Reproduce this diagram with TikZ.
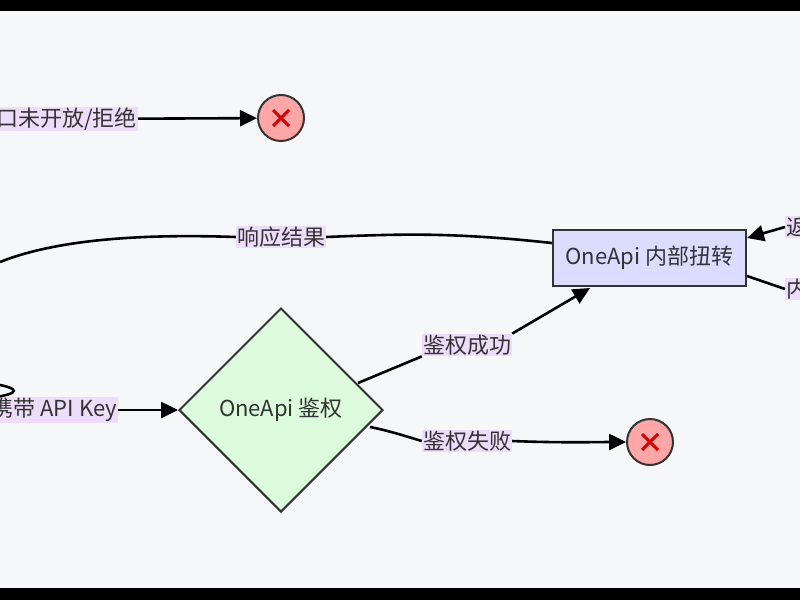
\documentclass[tikz,border=0pt]{standalone}
\usepackage{fontspec}
\setmainfont{Noto Sans CJK SC}
\usetikzlibrary{shapes.geometric,arrows.meta}
\definecolor{bg}{HTML}{F6F7F9}
\definecolor{lbl}{HTML}{EEDDFA}
\definecolor{txt}{HTML}{333333}
\begin{document}
\begin{tikzpicture}[x=1pt,y=-1pt,
  edge/.style={line width=2.6pt,black},
  arr/.style={edge,-{Triangle[length=17pt,width=16pt]}},
  lab/.style={fill=lbl,text=txt,font=\fontsize{22}{25}\selectfont,inner sep=1pt},
  stop/.style={circle,draw=txt,line width=2pt,fill=red!35!white,minimum size=46pt,inner sep=0pt},
  every node/.style={text=txt}]
\useasboundingbox (0,0) rectangle (800,600);
\fill[bg] (0,0) rectangle (800,600);
\begin{scope}
\clip (0,0) rectangle (800,600);
% nodes
\node[rectangle,draw=txt,line width=2pt,fill={rgb,255:red,220;green,220;blue,255},minimum width=193pt,minimum height=56pt,font=\fontsize{22}{25}\selectfont] (rect) at (649.5,258) {OneApi 内部扭转};
\node[diamond,draw=txt,line width=2pt,fill={rgb,255:red,220;green,251;blue,220},minimum width=204pt,minimum height=204pt,inner sep=0pt,aspect=1,font=\fontsize{22}{25}\selectfont] (dia) at (281,410) {OneApi 鉴权};
\node[stop] (s1) at (281,118) {};
\node[stop] (s2) at (650,442) {};
\foreach \s in {s1,s2}{
  \draw[red!85!black,line width=3pt] ([shift={(-8,-8)}]\s.center) -- ([shift={(8,8)}]\s.center);
  \draw[red!85!black,line width=3pt] ([shift={(-8,8)}]\s.center) -- ([shift={(8,-8)}]\s.center);
}
% labels
\node[lab,anchor=east] (l1) at (138,119) {口未开放/拒绝};
\node[lab] (l2) at (281,237) {响应结果};
\node[lab,anchor=east] (l3) at (118,410) {携带 API Key};
\node[lab] (l4) at (467,345) {鉴权成功};
\node[lab] (l5) at (467,441) {鉴权失败};
\node[lab,anchor=west] (l6) at (785,227) {返回};
\node[lab,anchor=west] (l7) at (785,289) {内部};
\coordinate (c1) at (0,262);
\coordinate (c2) at (0,385);
% edges
\draw[arr] (l1) -- (s1);
\draw[edge] (rect.west |- 0,243) .. controls (450,232) and (400,234) .. (l2.east);
\draw[edge] (l2.west) .. controls (150,234) and (60,238) .. (c1);
\draw[edge] (c2) .. controls (15,388) and (25,393) .. (l3.west |- 0,398);
\draw[arr] (l3) -- (dia.west);
\draw[edge] (358,383) -- (l4.south west);
\draw[arr] (l4.north east) -- (590,288);
\draw[edge] (370,427) .. controls (390,431) and (405,436) .. (l5.west);
\draw[arr] (l5.east) .. controls (560,443) and (600,442) .. (s2.west);
\draw[arr] (l6.west) -- (rect.east |- 0,238);
\draw[edge] (rect.east |- 0,276) -- (l7.west);
\end{scope}
\fill[black] (0,0) rectangle (800,11);
\fill[black] (0,588) rectangle (800,600);
\end{tikzpicture}
\end{document}
